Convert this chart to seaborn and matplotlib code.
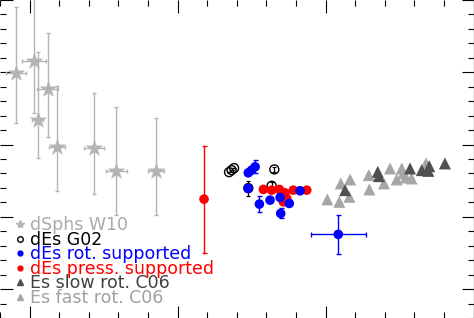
import matplotlib
matplotlib.use("Agg")
import matplotlib.pyplot as plt
from matplotlib.lines import Line2D
from matplotlib.ticker import MultipleLocator
import numpy as np
import pandas as pd
import seaborn as sns

# ---------------- data ----------------
# dSphs W10 (grey stars)
dsph_x = [-0.09, 0.03, 0.055, 0.123, 0.184, 0.436, 0.584, 0.853]
dsph_y = [2.99, 3.15, 2.34, 2.77, 1.97, 1.95, 1.63, 1.63]
dsph_xerr = [0.068, 0.082, 0.037, 0.071, 0.054, 0.068, 0.071, 0.054]
dsph_yerr_lo = [0.69, 0.72, 0.53, 0.66, 0.61, 0.63, 0.61, 0.61]
dsph_yerr_hi = [0.92, 1.10, 0.94, 0.78, 0.84, 0.77, 0.89, 0.74]

# dEs G02 (open black circles)
g02_x = [1.348, 1.365, 1.382, 1.654, 1.636, 1.478]
g02_y = [1.618, 1.646, 1.674, 1.656, 1.429, 1.397]
g02_yerr = [0.0, 0.0, 0.0, 0.04, 0.055, 0.104]

# dEs rotationally supported (blue)
rot_x = [1.478, 1.501, 1.524, 1.478, 1.553, 1.625, 1.693, 1.697, 1.755, 1.828, 2.086]
rot_y = [1.609, 1.646, 1.692, 1.393, 1.176, 1.231, 1.268, 1.047, 1.185, 1.360, 0.757]
rot_xerr = [0, 0, 0, 0, 0, 0, 0, 0, 0, 0, 0.187]
rot_yerr = [0, 0, 0.09, 0, 0.115, 0, 0, 0.07, 0, 0, 0.272]

# dEs pressure supported (red)
prs_x = [1.179, 1.580, 1.636, 1.688, 1.726, 1.715, 1.738, 1.782, 1.873]
prs_y = [1.245, 1.379, 1.369, 1.379, 1.332, 1.207, 1.254, 1.369, 1.369]
prs_yerr = [0.74, 0, 0, 0, 0, 0, 0, 0, 0]

# Es fast rotators C06 (light grey triangles)
fast_x = [2.012, 2.093, 2.103, 2.166, 2.161, 2.296, 2.292, 2.395, 2.436,
          2.481, 2.515, 2.526, 2.544, 2.582, 2.679]
fast_y = [1.241, 1.207, 1.462, 1.517, 1.277, 1.379, 1.577, 1.462, 1.669,
          1.517, 1.669, 1.600, 1.545, 1.531, 1.739]

# Es slow rotators C06 (dark grey triangles)
slow_x = [2.132, 2.353, 2.361, 2.571, 2.650, 2.695, 2.701, 2.807]
slow_y = [1.369, 1.622, 1.563, 1.669, 1.646, 1.636, 1.701, 1.739]

labels = ["dSphs W10", "dEs G02", "dEs rot. supported",
          "dEs press. supported", "Es slow rot. C06", "Es fast rot. C06"]

# ---------------- style ----------------
GREY_STAR = "#b4b4b4"
GREY_FAST = "#a6a6a6"
GREY_SLOW = "#505050"
BLUE = "#0000ff"
RED = "#ff0000"

sns.set_style("white")
plt.rcParams["font.family"] = ["DejaVu Sans"]

fig = plt.figure(figsize=(4.74, 3.18), dpi=100)
ax = fig.add_axes([0, 0, 473.5 / 474, 1])

# error bars
ax.errorbar(dsph_x, dsph_y, xerr=dsph_xerr, yerr=[dsph_yerr_lo, dsph_yerr_hi],
            fmt="none", ecolor=GREY_STAR, elinewidth=1.0, capsize=1.6, capthick=1.0, zorder=1)
ax.errorbar(g02_x, g02_y, yerr=g02_yerr, fmt="none", ecolor="black",
            elinewidth=0.9, capsize=1.4, capthick=0.9, zorder=2)
ax.errorbar(prs_x, prs_y, yerr=prs_yerr, fmt="none", ecolor=RED,
            elinewidth=1.0, capsize=1.8, capthick=1.0, zorder=2)
ax.errorbar(rot_x, rot_y, xerr=rot_xerr, yerr=rot_yerr, fmt="none", ecolor=BLUE,
            elinewidth=1.0, capsize=1.8, capthick=1.0, zorder=2)

# markers
sns.scatterplot(x=dsph_x, y=dsph_y, marker="*", s=150, color=GREY_STAR,
                edgecolor=GREY_STAR, linewidth=0.3, ax=ax, legend=False, zorder=3)
sns.scatterplot(x=fast_x, y=fast_y, marker="^", s=75, color=GREY_FAST,
                edgecolor="none", ax=ax, legend=False, zorder=3)
sns.scatterplot(x=slow_x, y=slow_y, marker="^", s=75, color=GREY_SLOW,
                edgecolor="none", ax=ax, legend=False, zorder=3)
sns.scatterplot(x=g02_x, y=g02_y, marker="o", s=42, facecolor="none",
                edgecolor="black", linewidth=1.0, ax=ax, legend=False, zorder=3)
sns.scatterplot(x=prs_x, y=prs_y, marker="o", s=48, color=RED,
                edgecolor="none", ax=ax, legend=False, zorder=4)
sns.scatterplot(x=rot_x, y=rot_y, marker="o", s=48, color=BLUE,
                edgecolor="none", ax=ax, legend=False, zorder=4)

# axes
ax.set_xlim(-0.2, 3.0)
ax.set_ylim(-0.4, 4.0)
ax.xaxis.set_major_locator(MultipleLocator(1.0))
ax.xaxis.set_minor_locator(MultipleLocator(0.2))
ax.yaxis.set_major_locator(MultipleLocator(1.0))
ax.yaxis.set_minor_locator(MultipleLocator(0.2))
ax.tick_params(which="both", direction="in", top=True, bottom=True, left=True,
               right=True, labelbottom=False, labelleft=False, color="black", width=0.8)
ax.tick_params(which="major", length=9)
ax.tick_params(which="minor", length=4.6)
for side in ["left", "top", "bottom"]:
    ax.spines[side].set_visible(False)
ax.spines["right"].set_color("#888888")
ax.spines["right"].set_linewidth(1.0)
ax.set_xlabel("")
ax.set_ylabel("")

# legend
handles = [
    Line2D([], [], ls="none", marker="*", ms=6, color=GREY_STAR),
    Line2D([], [], ls="none", marker="o", ms=4, mfc="none", mec="black", mew=1),
    Line2D([], [], ls="none", marker="o", ms=3.5, color=BLUE),
    Line2D([], [], ls="none", marker="o", ms=3.5, color=RED),
    Line2D([], [], ls="none", marker="^", ms=4.5, color=GREY_SLOW),
    Line2D([], [], ls="none", marker="^", ms=4.5, color=GREY_FAST),
]
ax.legend(handles, labels, loc="lower left", bbox_to_anchor=(0.033, 0.035),
          frameon=False, fontsize=12.5, handlelength=0.55, handletextpad=0.25,
          labelspacing=-0.2, borderpad=0, borderaxespad=0,
          labelcolor=["#aaaaaa", "black", BLUE, RED, "#404040", "#a0a0a0"])

fig.savefig("out.png", dpi=100)
